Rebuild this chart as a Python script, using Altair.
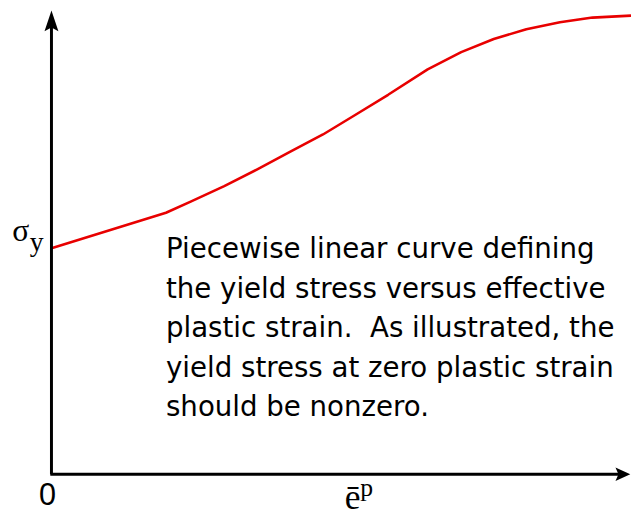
import altair as alt
import pandas as pd

# yield-stress curve (effective plastic strain, normalised stress)
strain = [0.0, 0.1976, 0.2402, 0.2981, 0.3543, 0.4106, 0.4685, 0.5247, 0.5809,
          0.6491, 0.7070, 0.7632, 0.8194, 0.8773, 0.9336, 1.0]
stress = [0.4925, 0.5699, 0.5942, 0.6280, 0.6639, 0.7017, 0.7404, 0.7834, 0.8269,
          0.8824, 0.9198, 0.9484, 0.9699, 0.9849, 0.9951, 0.9994]

note_lines = [
    "Piecewise linear curve defining",
    "the yield stress versus effective",
    "plastic strain.\u00a0 As illustrated, the",
    "yield stress at zero plastic strain",
    "should be nonzero.",
]

XD = [-0.075, 1.0]
YD = [-0.084, 1.009]
xs = alt.Scale(domain=XD, nice=False, zero=False)
ys = alt.Scale(domain=YD, nice=False, zero=False)

curve_df = pd.DataFrame({"strain": strain, "stress": stress})

curve = alt.Chart(curve_df).mark_line(
    color="#e80000", strokeWidth=2.6, clip=False, strokeJoin="round"
).encode(
    x=alt.X("strain:Q", scale=xs, axis=None),
    y=alt.Y("stress:Q", scale=ys, axis=None),
)

yaxis = alt.Chart().mark_rule(color="black", strokeWidth=3).encode(
    x=alt.datum(0.0, scale=xs), y=alt.datum(0.0, scale=ys), y2=alt.datum(0.975)
)
xaxis = alt.Chart().mark_rule(color="black", strokeWidth=3).encode(
    x=alt.datum(-0.002, scale=xs), x2=alt.datum(0.98), y=alt.datum(0.0, scale=ys)
)

up_arrow = alt.Chart().mark_point(
    shape="M0,-1 L0.67,1 L0,0.65 L-0.67,1 Z", size=441, filled=True, color="black", opacity=1
).encode(x=alt.datum(0.0, scale=xs), y=alt.datum(0.988, scale=ys))

right_arrow = alt.Chart().mark_point(
    shape="M1,0 L-1,-0.9 L-0.6,0 L-1,0.9 Z", size=225, filled=True, color="black", opacity=1
).encode(x=alt.datum(0.986, scale=xs), y=alt.datum(0.0, scale=ys))

note = alt.Chart().mark_text(
    text=note_lines, align="left", baseline="alphabetic", lineHeight=40,
    font="DejaVu Sans", fontSize=28, color="black"
).encode(x=alt.datum(0.1976, scale=xs), y=alt.datum(0.471, scale=ys))

sigma = alt.Chart().mark_text(
    text="σ", align="center", baseline="alphabetic", font="Liberation Serif", fontSize=32, color="black"
).encode(x=alt.datum(-0.0528, scale=xs), y=alt.datum(0.5075, scale=ys))

sub_y = alt.Chart().mark_text(
    text="y", align="left", baseline="alphabetic", font="Liberation Serif", fontSize=28, color="black"
).encode(x=alt.datum(-0.0375, scale=xs), y=alt.datum(0.486, scale=ys))

zero = alt.Chart().mark_text(
    text="0", align="center", baseline="alphabetic", font="Liberation Sans", fontSize=31, color="black"
).encode(x=alt.datum(-0.0068, scale=xs), y=alt.datum(-0.0667, scale=ys))

ebar = alt.Chart().mark_text(
    text="ē", align="center", baseline="alphabetic", font="Liberation Serif", fontSize=36, color="black"
).encode(x=alt.datum(0.5196, scale=xs), y=alt.datum(-0.0755, scale=ys))

sup_p = alt.Chart().mark_text(
    text="p", align="left", baseline="alphabetic", font="Liberation Serif", fontSize=26, color="black"
).encode(x=alt.datum(0.533, scale=xs), y=alt.datum(-0.0473, scale=ys))

chart = alt.layer(
    curve, yaxis, xaxis, up_arrow, right_arrow, note, sigma, sub_y, zero, ebar, sup_p
).properties(
    width=631, height=508,
    autosize=alt.AutoSizeParams(type="none"),
    padding=0,
).configure_view(stroke=None)

chart.save("out.html", embed_options={"renderer": "svg", "actions": False})
